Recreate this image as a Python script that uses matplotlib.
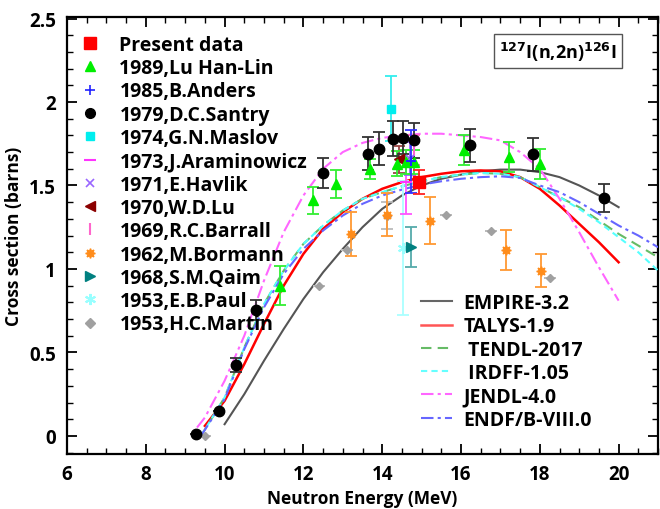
import matplotlib
matplotlib.use("Agg")
import matplotlib.pyplot as plt
from matplotlib.lines import Line2D
from matplotlib.ticker import MultipleLocator

plt.rcParams['font.family'] = ['Open Sans', 'DejaVu Sans']
plt.rcParams['font.weight'] = 'bold'

# ---------------- data ----------------
present_E = [14.94]
present_s = [1.52]
present_err = [0.07]

lu_E = [11.4, 12.25, 12.84, 13.7, 14.38, 14.6, 14.8, 16.08, 17.22, 18.0]
lu_s = [0.90, 1.41, 1.51, 1.60, 1.63, 1.64, 1.64, 1.71, 1.67, 1.63]
lu_err = [0.115, 0.08, 0.085, 0.06, 0.075, 0.07, 0.07, 0.09, 0.09, 0.09]

anders_E = [14.72]
anders_s = [1.645]
anders_err = [0.19]

santry_E = [9.28, 9.85, 10.3, 10.8, 12.51, 13.63, 13.92, 14.28, 14.54, 14.81, 16.23, 17.83, 19.64]
santry_s = [0.012, 0.152, 0.424, 0.753, 1.576, 1.69, 1.72, 1.78, 1.787, 1.77, 1.74, 1.687, 1.426]
santry_err = [0.0, 0.0, 0.04, 0.06, 0.09, 0.1, 0.1, 0.105, 0.1, 0.105, 0.1, 0.1, 0.085]

maslov_E = [14.22]
maslov_s = [1.96]
maslov_err = [0.195]

aram_E = [14.6]
aram_s = [1.52]
aram_err = [0.19]

havlik_E = [14.7]
havlik_s = [1.66]
havlik_err = [0.1]

wdlu_E = [14.43]
wdlu_s = [1.657]
wdlu_err = [0.08]

barrall_E = [14.8]
barrall_s = [1.715]
barrall_err = [0.09]

bormann_E = [13.22, 14.13, 15.22, 17.13, 18.03]
bormann_s = [1.21, 1.325, 1.29, 1.116, 0.99]
bormann_err = [0.13, 0.13, 0.14, 0.12, 0.10]

qaim_E = [14.72]
qaim_s = [1.13]
qaim_err = [0.12]

paul_E = [14.52]
paul_s = [1.125]
paul_err = [0.40]

martin_E = [9.51, 12.39, 13.1, 14.13, 15.61, 16.77, 18.27]
martin_s = [0.0, 0.896, 1.116, 1.32, 1.325, 1.225, 0.946]
martin_err = [0.0, 0.0, 0.0, 0.08, 0.0, 0.0, 0.0]

# evaluated curves
empire_E = [10.0, 10.5, 11.0, 11.5, 12.0, 12.5, 13.0, 13.5, 14.0, 14.5, 15.0, 15.5,
            16.0, 16.5, 17.0, 17.5, 18.0, 18.5, 19.0, 19.5, 20.0]
empire_s = [0.07, 0.25, 0.45, 0.64, 0.82, 0.98, 1.12, 1.25, 1.36, 1.44, 1.50, 1.54,
            1.565, 1.585, 1.595, 1.595, 1.58, 1.55, 1.50, 1.44, 1.37]

talys_E = [9.5, 10.0, 10.5, 11.0, 11.5, 12.0, 12.5, 13.0, 13.5, 14.0, 14.5, 15.0,
           15.5, 16.0, 16.5, 17.0, 17.5, 18.0, 18.5, 19.0, 19.5, 20.0]
talys_s = [0.06, 0.21, 0.43, 0.67, 0.90, 1.09, 1.24, 1.34, 1.42, 1.48, 1.52, 1.55,
           1.57, 1.585, 1.59, 1.585, 1.55, 1.48, 1.38, 1.27, 1.16, 1.04]

eval_E = [9.4, 10.0, 10.5, 11.0, 11.5, 12.0, 12.5, 13.0, 13.5, 14.0, 14.5, 15.0,
          15.5, 16.0, 16.5, 17.0, 17.5, 18.0, 18.5, 19.0, 19.5, 20.0, 20.5, 21.0]
tendl_s = [0.0, 0.23, 0.53, 0.79, 0.99, 1.15, 1.26, 1.35, 1.42, 1.46, 1.495, 1.525,
           1.55, 1.565, 1.575, 1.57, 1.55, 1.49, 1.43, 1.37, 1.29, 1.21, 1.14, 1.07]
irdff_s = [0.0, 0.23, 0.53, 0.79, 0.99, 1.15, 1.26, 1.35, 1.42, 1.46, 1.495, 1.525,
           1.55, 1.565, 1.575, 1.57, 1.55, 1.49, 1.43, 1.36, 1.28, 1.19, 1.10, 0.99]
endf_s = [0.0, 0.22, 0.52, 0.77, 0.97, 1.12, 1.23, 1.32, 1.39, 1.44, 1.475, 1.505,
          1.525, 1.54, 1.55, 1.555, 1.545, 1.50, 1.46, 1.40, 1.33, 1.26, 1.20, 1.13]

jendl_E = [9.3, 9.5, 10.0, 10.5, 11.0, 11.5, 12.0, 12.5, 13.0, 13.5, 14.0, 14.5,
           15.0, 15.5, 16.0, 16.5, 17.0, 17.5, 18.0, 18.5, 19.0, 19.5, 20.0]
jendl_s = [0.05, 0.11, 0.33, 0.60, 0.93, 1.22, 1.44, 1.60, 1.70, 1.755, 1.785, 1.80,
           1.81, 1.81, 1.80, 1.79, 1.77, 1.70, 1.60, 1.42, 1.22, 1.01, 0.81]

# ---------------- figure ----------------
fig = plt.figure(figsize=(6.6, 5.1), dpi=100)
ax = fig.add_axes([0.1015, 0.108, 0.8955, 0.857])

# curves
ax.plot(empire_E, empire_s, color='#555555', lw=1.5, zorder=3)
ax.plot(talys_E, talys_s, color='#ff0000', lw=1.8, zorder=3)
ax.plot(eval_E, tendl_s, color='#66bb66', lw=1.5, ls=(0, (5, 3)), zorder=3)
ax.plot(eval_E, irdff_s, color='#55ffff', lw=1.5, ls=(0, (3, 2)), zorder=3)
ax.plot(jendl_E, jendl_s, color='#ff66ff', lw=1.5, ls=(0, (6, 2, 1.5, 2)), zorder=3)
ax.plot(eval_E, endf_s, color='#6666ff', lw=1.5, ls=(0, (6, 2, 1.5, 2)), zorder=3)

def eb(E, s, err, marker, color, ecolor, ms, mfc=None, mew=1.0):
    ax.errorbar(E, s, yerr=err, fmt='none', ecolor=ecolor, elinewidth=1.3,
                capsize=4, capthick=1.3, zorder=4)
    ax.plot(E, s, ls='none', marker=marker, color=color, ms=ms,
            mfc=mfc if mfc else color, mew=mew, zorder=5)

eb(paul_E, paul_s, paul_err, (6, 2, 0), '#99ffff', '#aaffff', 8, mew=1.5)
eb(martin_E, martin_s, martin_err, 'D', '#a0a0a0', '#bbbbbb', 4.5)
eb(bormann_E, bormann_s, bormann_err, (8, 1, 0), '#ff8c1a', '#ff9933', 7)
eb(qaim_E, qaim_s, qaim_err, '>', '#008080', '#55aaaa', 7)
eb(aram_E, aram_s, aram_err, '_', '#ff33ff', '#ff55ff', 8, mew=1.5)
eb(barrall_E, barrall_s, barrall_err, '|', '#ff66cc', '#ff66cc', 8, mew=1.5)
eb(havlik_E, havlik_s, havlik_err, 'x', '#9966ff', '#9966ff', 6, mew=1.3)
eb(wdlu_E, wdlu_s, wdlu_err, '<', '#8b0000', '#994444', 7)
eb(maslov_E, maslov_s, maslov_err, 's', '#00eeee', '#33eeee', 6)
eb(lu_E, lu_s, lu_err, '^', '#00ee00', '#33ee33', 7)
eb(santry_E, santry_s, santry_err, 'o', '#000000', '#333333', 7.5)
eb(anders_E, anders_s, anders_err, '+', '#2222ff', '#3333ff', 7, mew=1.5)
eb(present_E, present_s, present_err, 's', '#ff0000', '#ff2222', 8)

# axes
ax.set_xlim(6, 21)
ax.set_ylim(-0.108, 2.51)
ax.xaxis.set_major_locator(MultipleLocator(2))
ax.xaxis.set_minor_locator(MultipleLocator(0.5))
ax.yaxis.set_major_locator(MultipleLocator(0.5))
ax.yaxis.set_minor_locator(MultipleLocator(0.1))
ax.set_yticks([0, 0.5, 1, 1.5, 2, 2.5])
ax.set_yticklabels(['0', '0.5', '1', '1.5', '2', '2.5'])
ax.tick_params(which='both', direction='in', top=True, right=True)
ax.tick_params(which='major', length=7, width=1.3, labelsize=13.5)
ax.tick_params(axis='x', which='major', pad=7)
ax.tick_params(axis='y', which='major', pad=8)
ax.tick_params(which='minor', length=4, width=1.0)
for lab in ax.get_xticklabels() + ax.get_yticklabels():
    lab.set_fontweight('bold')
for sp in ax.spines.values():
    sp.set_linewidth(1.6)

ax.set_xlabel('Neutron Energy (MeV)', fontsize=12.5, fontweight='bold', labelpad=4)
ax.set_ylabel('Cross section (barns)', fontsize=12.5, fontweight='bold')
ax.yaxis.set_label_coords(-0.0745, 0.5)

# legend 1: data
h1 = [
    Line2D([], [], ls='none', marker='s', color='#ff0000', ms=8),
    Line2D([], [], ls='none', marker='^', color='#00ee00', ms=7),
    Line2D([], [], ls='none', marker='+', color='#2222ff', ms=7, mew=1.2),
    Line2D([], [], ls='none', marker='o', color='#000000', ms=7),
    Line2D([], [], ls='none', marker='s', color='#00eeee', ms=6),
    Line2D([], [], ls='none', marker='_', color='#ff33ff', ms=8, mew=1.5),
    Line2D([], [], ls='none', marker='x', color='#9966ff', ms=6, mew=1.2),
    Line2D([], [], ls='none', marker='<', color='#8b0000', ms=7),
    Line2D([], [], ls='none', marker='|', color='#ff66cc', ms=8, mew=1.5),
    Line2D([], [], ls='none', marker=(8, 1, 0), color='#ff8c1a', ms=7),
    Line2D([], [], ls='none', marker='>', color='#008080', ms=7),
    Line2D([], [], ls='none', marker=(6, 2, 0), color='#99ffff', ms=8, mew=1.5),
    Line2D([], [], ls='none', marker='D', color='#a0a0a0', ms=5),
]
l1_labels = ['Present data', '1989,Lu Han-Lin', '1985,B.Anders', '1979,D.C.Santry',
             '1974,G.N.Maslov', '1973,J.Araminowicz', '1971,E.Havlik', '1970,W.D.Lu',
             '1969,R.C.Barrall', '1962,M.Bormann', '1968,S.M.Qaim', '1953,E.B.Paul',
             '1953,H.C.Martin']
leg1 = ax.legend(h1, l1_labels, loc='upper left', bbox_to_anchor=(0.0, 0.99),
                 frameon=False, prop={'size': 14, 'weight': 'bold'},
                 handlelength=1.0, handletextpad=1.0, labelspacing=0.17,
                 borderaxespad=0.3, borderpad=0.4)
ax.add_artist(leg1)

# legend 2: evaluations
h2 = [
    Line2D([], [], color='#666666', lw=1.5),
    Line2D([], [], color='#ff5555', lw=1.8),
    Line2D([], [], color='#66bb66', lw=1.5, ls=(0, (5, 3))),
    Line2D([], [], color='#66ffff', lw=1.5, ls=(0, (3, 2))),
    Line2D([], [], color='#ff66ff', lw=1.5, ls=(0, (6, 2, 1.5, 2))),
    Line2D([], [], color='#6666ff', lw=1.5, ls=(0, (6, 2, 1.5, 2))),
]
l2_labels = ['EMPIRE-3.2', 'TALYS-1.9', ' TENDL-2017', ' IRDFF-1.05', 'JENDL-4.0',
             'ENDF/B-VIII.0']
ax.legend(h2, l2_labels, loc='upper left', bbox_to_anchor=(0.5985, 0.368),
          frameon=False, prop={'size': 14, 'weight': 'bold'},
          handlelength=1.6, handletextpad=0.6, labelspacing=0.17,
          borderaxespad=0.0, borderpad=0.0)

# reaction label
ax.text(0.831, 0.921, r'$^{\mathbf{127}}$I(n,2n)$^{\mathbf{126}}$I', transform=ax.transAxes,
        ha='center', va='center', fontsize=13, fontweight='bold',
        bbox=dict(boxstyle='square,pad=0.3', fc='white', ec='#555555', lw=1.0))

fig.savefig('out.png', dpi=100)
